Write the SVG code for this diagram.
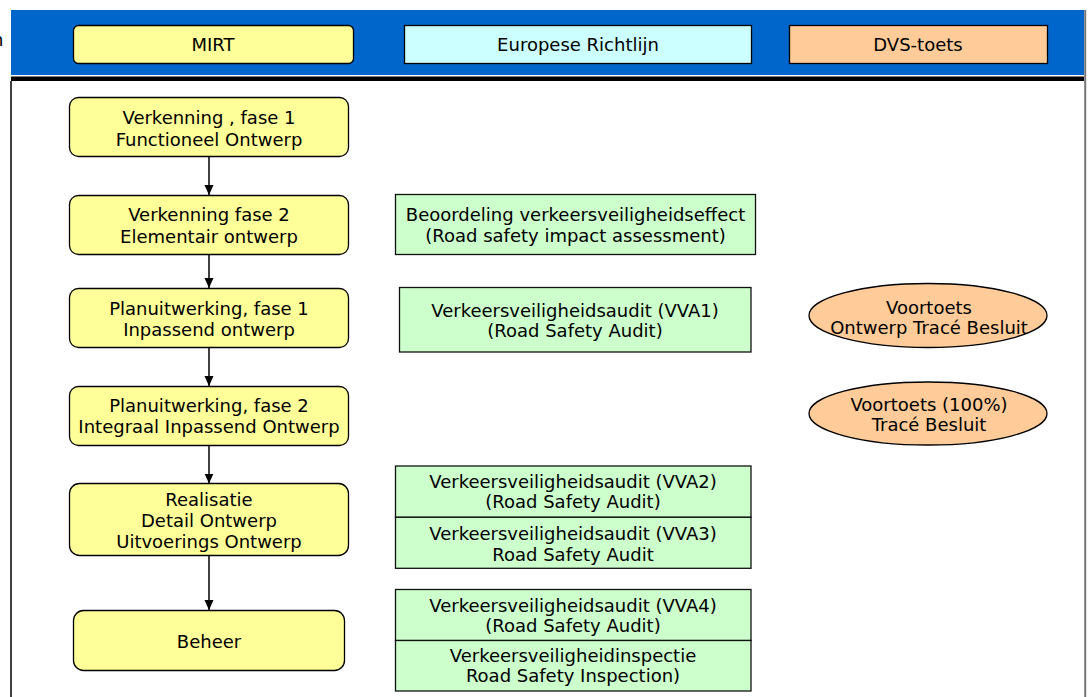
<svg xmlns="http://www.w3.org/2000/svg" width="1088" height="697" viewBox="0 0 1088 697">
<style>
text{font-family:"DejaVu Sans","Verdana",sans-serif;font-size:18px;fill:#000;text-anchor:middle}
.y{fill:#FFFF99;stroke:#000;stroke-width:1.3}
.g{fill:#CCFFCC;stroke:#111;stroke-width:1.3}
.o{fill:#FFCC99;stroke:#000;stroke-width:1.3}
.c{fill:#CCFFFF;stroke:#000;stroke-width:1.3}
.con{stroke:#000;stroke-width:1.5;fill:none;marker-end:url(#ah)}
</style>
<defs>
<marker id="ah" markerUnits="userSpaceOnUse" markerWidth="10" markerHeight="10" viewBox="0 0 10 10" refX="10" refY="5" orient="auto">
<path d="M0,0.5 L10,5 L0,9.5 z" fill="#000"/>
</marker>
</defs>
<rect width="1088" height="697" fill="#fff"/>
<text x="3.5" y="46" style="text-anchor:end">n</text>
<g id="frame">
<rect x="11" y="10" width="1073" height="65" fill="#0066CC"/>
<rect x="11" y="76.5" width="1073" height="4.5" fill="#000"/>
<line x1="11" y1="81" x2="11" y2="697" stroke="#000" stroke-width="1.5"/>
<line x1="1085.2" y1="10" x2="1085.2" y2="697" stroke="#777" stroke-width="2"/>
</g>
<g id="hdr-mirt"><rect class="y" x="73.5" y="25.5" width="280" height="38" rx="5"/><text x="213" y="51">MIRT</text></g>
<g id="hdr-eu"><rect class="c" x="404.5" y="25.5" width="347" height="38"/><text x="578" y="51">Europese Richtlijn</text></g>
<g id="hdr-dvs"><rect class="o" x="789.5" y="25.5" width="258" height="38"/><text x="918" y="51">DVS-toets</text></g>

<g id="connectors">
<line class="con" x1="209" y1="157" x2="209" y2="195"/>
<line class="con" x1="209" y1="254.5" x2="209" y2="288"/>
<line class="con" x1="209" y1="347.5" x2="209" y2="386"/>
<line class="con" x1="209" y1="445.5" x2="209" y2="483.5"/>
<line class="con" x1="209" y1="556" x2="209" y2="610"/>
</g>

<g id="n1"><rect class="y" x="69.5" y="97.5" width="279" height="59" rx="9"/><text x="209" y="124">Verkenning , fase 1</text><text x="209" y="145.5">Functioneel Ontwerp</text></g>
<g id="n2"><rect class="y" x="69.5" y="195.5" width="279" height="59" rx="9"/><text x="209" y="221">Verkenning fase 2</text><text x="209" y="242.5">Elementair ontwerp</text></g>
<g id="n3"><rect class="y" x="69.5" y="288.5" width="279" height="59" rx="9"/><text x="209" y="315">Planuitwerking, fase 1</text><text x="209" y="336">Inpassend ontwerp</text></g>
<g id="n4"><rect class="y" x="69.5" y="386.5" width="279" height="59" rx="9"/><text x="209" y="411.5">Planuitwerking, fase 2</text><text x="209" y="433">Integraal Inpassend Ontwerp</text></g>
<g id="n5"><rect class="y" x="69.5" y="483.5" width="279" height="72" rx="10"/><text x="209" y="505.5">Realisatie</text><text x="209" y="526.5">Detail Ontwerp</text><text x="209" y="548">Uitvoerings Ontwerp</text></g>
<g id="n6"><rect class="y" x="73.5" y="610.5" width="271" height="60" rx="10"/><text x="209" y="648">Beheer</text></g>

<g id="g1"><rect class="g" x="395.5" y="194.5" width="360" height="60"/><text x="575.5" y="221">Beoordeling verkeersveiligheidseffect</text><text x="575.5" y="241.5">(Road safety impact assessment)</text></g>
<g id="g2"><rect class="g" x="399.5" y="287.5" width="351.5" height="64.5"/><text x="575" y="316.5">Verkeersveiligheidsaudit (VVA1)</text><text x="575" y="336.5">(Road Safety Audit)</text></g>
<g id="g3"><rect class="g" x="395.5" y="466" width="355.5" height="51.3"/><text x="573" y="487.5">Verkeersveiligheidsaudit (VVA2)</text><text x="573" y="508">(Road Safety Audit)</text></g>
<g id="g4"><rect class="g" x="395.5" y="517.3" width="355.5" height="51"/><text x="573" y="540">Verkeersveiligheidsaudit (VVA3)</text><text x="573" y="560.5">Road Safety Audit</text></g>
<g id="g5"><rect class="g" x="395.5" y="589.5" width="355.5" height="51"/><text x="573" y="611.5">Verkeersveiligheidsaudit (VVA4)</text><text x="573" y="632">(Road Safety Audit)</text></g>
<g id="g6"><rect class="g" x="395.5" y="640.5" width="355.5" height="50.5"/><text x="573" y="662">Verkeersveiligheidinspectie</text><text x="573" y="682">Road Safety Inspection)</text></g>

<g id="e1"><ellipse class="o" cx="928" cy="315.5" rx="119" ry="32"/><text x="929" y="313.5">Voortoets</text><text x="929" y="333.5">Ontwerp Tracé Besluit</text></g>
<g id="e2"><ellipse class="o" cx="928" cy="413.5" rx="119" ry="31.5"/><text x="929" y="410.5">Voortoets (100%)</text><text x="929" y="431">Tracé Besluit</text></g>
</svg>
